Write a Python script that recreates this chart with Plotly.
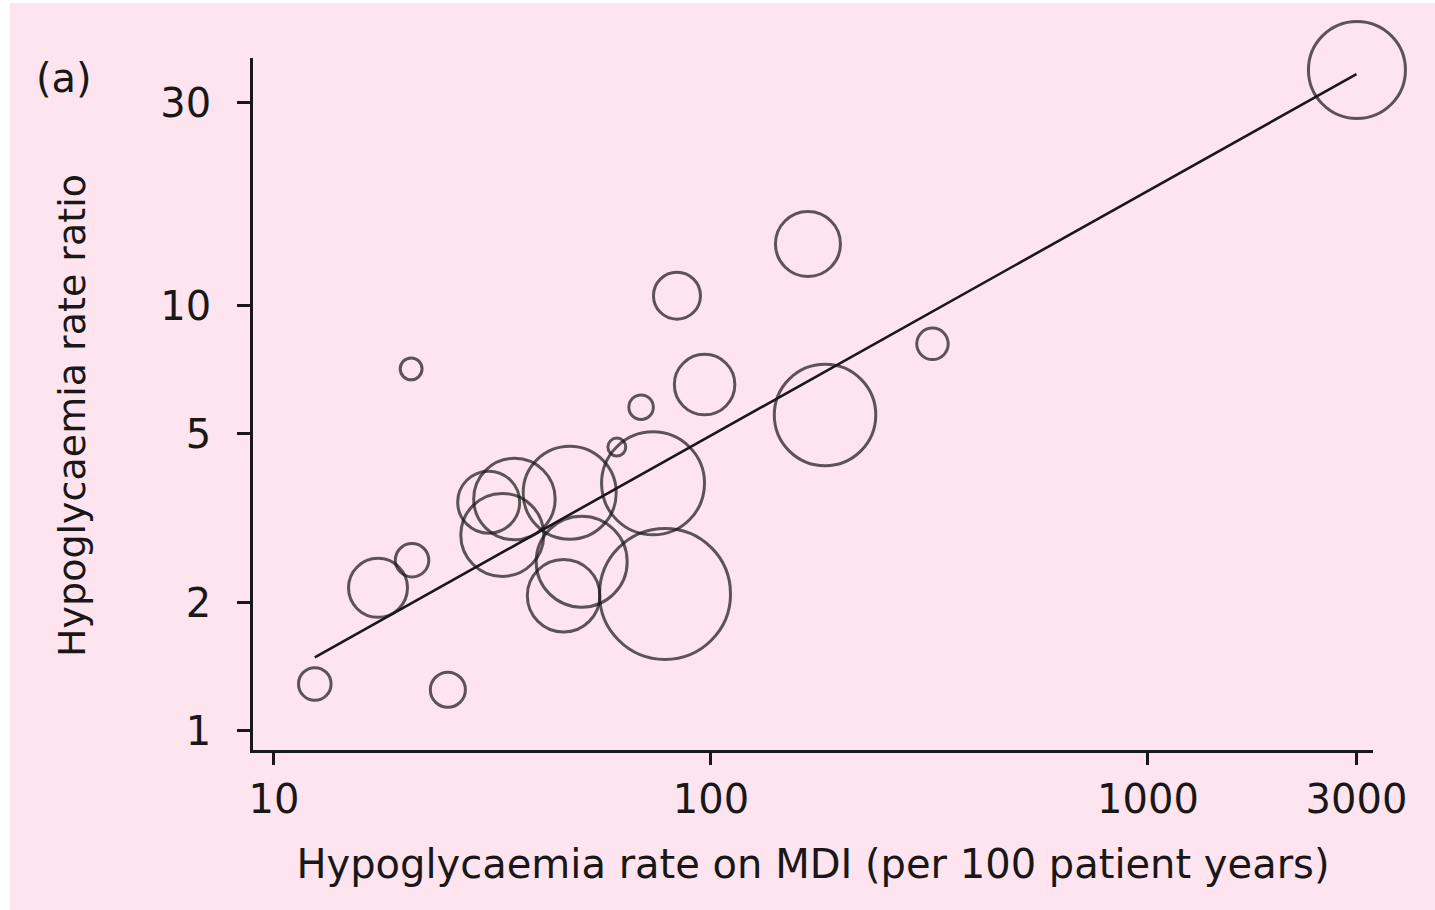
import plotly.graph_objects as go

# Study-level data
mdi_rate = [12.4, 17.3, 20.7, 20.6, 25.0, 31.0, 35.5, 33.3, 47.5, 50.6, 46.0,
            60.9, 69.2, 73.7, 78.5, 83.6, 96.7, 166.7, 182.4, 321.3, 3008]
rate_ratio = [1.29, 2.17, 2.52, 7.10, 1.25, 3.45, 3.51, 2.89, 3.63, 2.50, 2.08,
              4.65, 5.77, 3.82, 2.10, 10.55, 6.52, 13.96, 5.53, 8.13, 35.8]
study_weight = [10.6, 34.8, 11.2, 4.8, 12.3, 38.4, 66.4, 68.9, 86.5, 82.8, 52.6,
                3.2, 6.0, 106.1, 171.6, 22.1, 36.6, 42.3, 103.0, 9.9, 94.1]

# Fitted meta-regression line (end points)
fit_x = [12.4, 3000]
fit_y = [1.49, 35.0]

x_ticks = [10, 100, 1000, 3000]
x_ticktext = ["10", "100", "1000", "3000"]
y_ticks = [1, 2, 5, 10, 30]
y_ticktext = ["1", "2", "5", "10", "30"]

INK = "#1a1718"
PINK = "#fde4ee"
FONT = "DejaVu Sans, Liberation Sans, Arial, sans-serif"
FS = 40

W, H = 1435, 910
ML, MR, MT, MB = 253, 62, 58, 160
PW, PH = W - ML - MR, H - MT - MB

fig = go.Figure()

fig.add_trace(go.Scatter(
    x=fit_x, y=fit_y, mode="lines",
    line=dict(color=INK, width=2.6),
    showlegend=False, hoverinfo="skip", cliponaxis=False,
))

fig.add_trace(go.Scatter(
    x=mdi_rate, y=rate_ratio, mode="markers",
    marker=dict(
        size=study_weight, sizemode="area", sizeref=0.0200, sizemin=2,
        color="rgba(0,0,0,0)",
        line=dict(color=INK, width=3),
    ),
    showlegend=False, cliponaxis=False,
))

fig.update_xaxes(
    type="log", range=[0.952, 3.515],
    tickvals=x_ticks, ticktext=x_ticktext,
    showline=True, linecolor=INK, linewidth=2.6,
    ticks="outside", ticklen=12, tickwidth=2.6, tickcolor=INK,
    showgrid=False, zeroline=False, ticklabelstandoff=0,
    tickfont=dict(size=FS, color=INK, family=FONT),
    title=dict(text="Hypoglycaemia rate on MDI (per 100 patient years)",
               font=dict(size=FS, color=INK, family=FONT), standoff=30),
)
fig.update_yaxes(
    type="log", range=[-0.0447, 1.582],
    tickvals=y_ticks, ticktext=y_ticktext,
    showline=True, linecolor=INK, linewidth=2.6,
    ticks="outside", ticklen=13, tickwidth=2.6, tickcolor=INK,
    showgrid=False, zeroline=False, ticklabelstandoff=18,
    tickfont=dict(size=FS, color=INK, family=FONT),
)

# Page background (thin white strip on the left and top as in the original)
fig.add_shape(
    type="rect", xref="paper", yref="paper", layer="below",
    x0=(10 - ML) / PW, x1=(W - ML) / PW,
    y0=-MB / PH, y1=(H - MB - 3) / PH,
    fillcolor=PINK, line=dict(width=0),
)

# Y axis title placed as rotated text
fig.add_annotation(
    text="Hypoglycaemia rate ratio", xref="paper", yref="paper",
    x=(72 - ML) / PW, y=(H - MB - 416) / PH,
    xanchor="center", yanchor="middle", textangle=-90, showarrow=False,
    font=dict(size=38, color=INK, family=FONT),
)

fig.add_annotation(
    text="(a)", xref="paper", yref="paper",
    x=(34 - ML) / PW, y=(H - MB - 78) / PH,
    xanchor="left", yanchor="middle", showarrow=False,
    font=dict(size=FS, color=INK, family=FONT),
)

fig.update_layout(
    width=W, height=H,
    margin=dict(l=ML, r=MR, t=MT, b=MB),
    paper_bgcolor="white", plot_bgcolor="rgba(0,0,0,0)",
    font=dict(family=FONT, color=INK),
)

fig.write_html("out.html")
